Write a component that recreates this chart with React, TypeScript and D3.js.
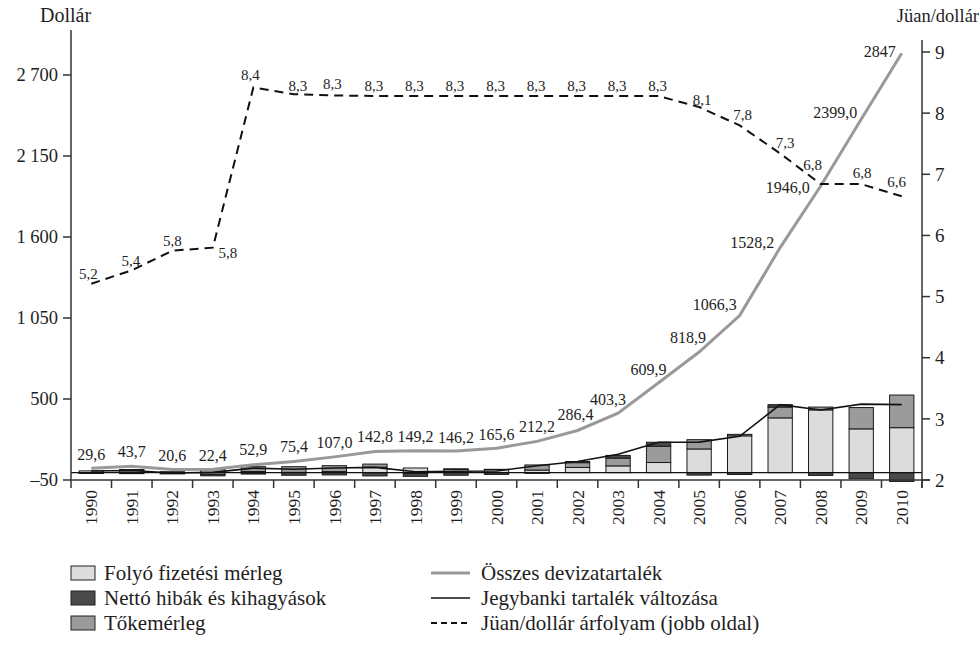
import React from "react";
import * as d3 from "d3";

const years = ["1990","1991","1992","1993","1994","1995","1996","1997","1998","1999","2000","2001","2002","2003","2004","2005","2006","2007","2008","2009","2010"];
// bar series (billion USD)
const currentAccount = [12.0,13.3,6.4,-11.9,7.7,1.6,7.2,37.0,31.5,21.1,20.5,17.4,35.4,45.9,68.7,160.8,249.9,371.8,426.1,297.1,305.4];
const capitalAccount = [-2.8,8.0,-0.3,23.5,32.6,38.7,40.0,21.0,-6.3,5.2,2.0,34.8,32.3,52.8,110.7,63.0,10.0,73.5,19.0,144.8,221.4];
const errorsOmissions = [-3.1,-6.8,-8.2,-9.8,-9.8,-17.8,-15.5,-22.3,-18.9,-17.8,-11.9,-4.9,7.8,18.4,27.0,-16.8,-12.9,16.4,-18.9,-41.4,-59.8];
// lines
const totalReserves = [29.6,43.7,20.6,22.4,52.9,75.4,107.0,142.8,149.2,146.2,165.6,212.2,286.4,403.3,609.9,818.9,1066.3,1528.2,1946.0,2399.0,2847];
const totalReserveLabels = ["29,6","43,7","20,6","22,4","52,9","75,4","107,0","142,8","149,2","146,2","165,6","212,2","286,4","403,3","609,9","818,9","1066,3","1528,2","1946,0","2399,0","2847"];
const reserveChange = [11.1,14.1,-2.1,1.8,30.5,22.5,31.6,35.7,6.4,9.7,10.9,47.3,75.5,125.0,206.4,207.0,247.0,462.0,425.0,465.0,462.0];
const exchangeRate = [5.21,5.43,5.75,5.8,8.42,8.31,8.29,8.28,8.28,8.28,8.28,8.28,8.28,8.28,8.28,8.1,7.8,7.34,6.84,6.84,6.64];
const exchangeRateLabels = ["5,2","5,4","5,8","5,8","8,4","8,3","8,3","8,3","8,3","8,3","8,3","8,3","8,3","8,3","8,3","8,1","7,8","7,3","6,8","6,8","6,6"];
const leftTicks = [-50, 500, 1050, 1600, 2150, 2700];
const leftTickLabels = ["–50","500","1 050","1 600","2 150","2 700"];
const rightTicks = [2,3,4,5,6,7,8,9];

// label layout offsets (px) relative to the data point
const reserveLabelDx = [0,0,0,0,0,0,0,0,0,0,0,0,-2,-10,-10,-11,-25,-28,-33,-26,-22];
const reserveLabelDy = [-8,-9,-9,-8,-10,-10,-9,-10,-9,-8,-8,-9,-10,-8,-8,-9,-6,0,7,-1,4];
const rateLabelDx = [-3,-1,0,15,-3,4,-2,-1,-1,-1,-1,-1,-1,-1,-1,3,3,5,-8,1,-5];
const rateLabelDy = [-5,-4,-5,10,-7,-3,-6,-5,-5,-5,-5,-5,-5,-5,-5,-2,-5,-5,-14,-6,-9];

const seriesKeys = ["ca","cap","eo"];
const seriesFill: Record<string,string> = { ca: "#dcdcdc", cap: "#9b9b9b", eo: "#4a4a4a" };

const FONT = "'Liberation Serif', 'DejaVu Serif', serif";

export default function App() {
  const W = 980, H = 647;
  const x0 = 71, x1 = 922;
  const x = d3.scaleBand<string>().domain(years).range([x0, x1]).padding(0);
  const bw = x.bandwidth();
  const cx = (y: string) => (x(y) as number) + bw / 2;
  const yL = d3.scaleLinear().domain([-50, 3000]).range([480, 30.8]);
  const yR = d3.scaleLinear().domain([2, 9]).range([480, 52]);

  const table = years.map((y, i) => ({ year: y, ca: currentAccount[i], cap: capitalAccount[i], eo: errorsOmissions[i] }));
  const stack = d3.stack<any>().keys(seriesKeys).offset(d3.stackOffsetDiverging);
  const stacked = stack(table);
  const barW = bw * 0.6;

  const lineL = d3.line<number>().x((_, i) => cx(years[i])).y((d) => yL(d));
  const lineR = d3.line<number>().x((_, i) => cx(years[i])).y((d) => yR(d));

  const axisColor = "#333";
  const textColor = "#1e1e1e";
  const xAxisY = 480;

  const legendLeft = [
    { label: "Folyó fizetési mérleg", fill: seriesFill.ca },
    { label: "Nettó hibák és kihagyások", fill: seriesFill.eo },
    { label: "Tőkemérleg", fill: seriesFill.cap },
  ];
  const legendRight = [
    { label: "Összes devizatartalék", stroke: "#999", w: 3, dash: "" },
    { label: "Jegybanki tartalék változása", stroke: "#111", w: 1.6, dash: "" },
    { label: "Jüan/dollár árfolyam (jobb oldal)", stroke: "#111", w: 1.8, dash: "6,4" },
  ];

  return (
    <svg width={W} height={H} style={{ position: "absolute", left: 0, top: 0, background: "#fff" }} fontFamily={FONT}>
      {/* bars */}
      {stacked.map((s) => (
        <g key={s.key}>
          {s.map((d, i) => {
            const top = yL(Math.max(d[0], d[1]));
            const bot = yL(Math.min(d[0], d[1]));
            return (
              <rect key={i} x={cx(years[i]) - barW / 2} y={top} width={barW} height={Math.max(0, bot - top)}
                fill={seriesFill[s.key]} stroke="#1a1a1a" strokeWidth={1} />
            );
          })}
        </g>
      ))}
      {/* zero line */}
      <line x1={x0} x2={x1} y1={yL(0)} y2={yL(0)} stroke="#111" strokeWidth={1.2} />

      {/* x axis */}
      <line x1={x0} x2={x1 + 8} y1={xAxisY} y2={xAxisY} stroke={axisColor} strokeWidth={1.5} />
      {years.map((y, i) => (
        <line key={"xt" + i} x1={(x(y) as number) + bw} x2={(x(y) as number) + bw} y1={xAxisY} y2={xAxisY + 8} stroke={axisColor} strokeWidth={1.5} />
      ))}
      {years.map((y) => (
        <text key={"xl" + y} transform={`translate(${cx(y)},${xAxisY + 10}) rotate(-90)`} textAnchor="end" dy="0.35em" fontSize={17.5} fill={textColor}>{y}</text>
      ))}

      {/* left axis */}
      <line x1={x0} x2={x0} y1={30} y2={488} stroke={axisColor} strokeWidth={1.5} />
      {leftTicks.map((t, i) => (
        <g key={"lt" + t}>
          <line x1={x0 - 8} x2={x0} y1={yL(t)} y2={yL(t)} stroke={axisColor} strokeWidth={1.5} />
          <text x={x0 - 13} y={yL(t)} dy="0.35em" textAnchor="end" fontSize={18.5} fill={textColor}>{leftTickLabels[i]}</text>
        </g>
      ))}
      <text x={40} y={22} fontSize={20} fill={textColor}>Dollár</text>

      {/* right axis */}
      <line x1={x1} x2={x1} y1={40} y2={488} stroke={axisColor} strokeWidth={1.5} />
      {rightTicks.map((t) => (
        <g key={"rt" + t}>
          <line x1={x1} x2={x1 + 8} y1={yR(t)} y2={yR(t)} stroke={axisColor} strokeWidth={1.5} />
          <text x={x1 + 13} y={yR(t)} dy="0.35em" textAnchor="start" fontSize={19} fill={textColor}>{t}</text>
        </g>
      ))}
      <text x={979} y={22} textAnchor="end" fontSize={18.5} fill={textColor}>Jüan/dollár</text>

      {/* lines */}
      <path d={lineL(totalReserves) || ""} fill="none" stroke="#999" strokeWidth={3} />
      <path d={lineL(reserveChange) || ""} fill="none" stroke="#111" strokeWidth={1.6} />
      <path d={lineR(exchangeRate) || ""} fill="none" stroke="#111" strokeWidth={2} strokeDasharray="9,6" />

      {/* labels */}
      {totalReserves.map((v, i) => (
        <text key={"trl" + i} x={cx(years[i]) + reserveLabelDx[i]} y={yL(v) + reserveLabelDy[i]} textAnchor="middle" fontSize={16} fill={textColor}>{totalReserveLabels[i]}</text>
      ))}
      {exchangeRate.map((v, i) => (
        <text key={"erl" + i} x={cx(years[i]) + rateLabelDx[i]} y={yR(v) + rateLabelDy[i]} textAnchor="middle" fontSize={15} fill={textColor}>{exchangeRateLabels[i]}</text>
      ))}

      {/* legend */}
      {legendLeft.map((l, i) => (
        <g key={"ll" + i} transform={`translate(71,${573 + i * 25})`}>
          <rect x={0} y={-7} width={24} height={14} fill={l.fill} stroke="#222" strokeWidth={1} />
          <text x={33} y={0} dy="0.35em" fontSize={21} fill={textColor}>{l.label}</text>
        </g>
      ))}
      {legendRight.map((l, i) => (
        <g key={"lr" + i} transform={`translate(431,${573 + i * 25})`}>
          <line x1={0} x2={39} y1={0} y2={0} stroke={l.stroke} strokeWidth={l.w} strokeDasharray={l.dash || undefined} />
          <text x={50} y={0} dy="0.35em" fontSize={21} fill={textColor}>{l.label}</text>
        </g>
      ))}
    </svg>
  );
}
